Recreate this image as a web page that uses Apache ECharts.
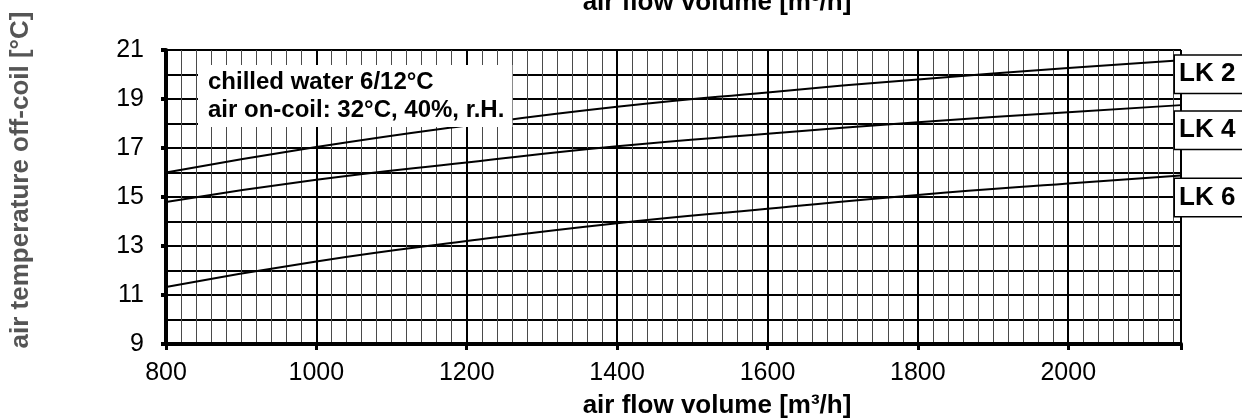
<!DOCTYPE html>
<html>
<head>
<meta charset="utf-8">
<title>air temperature off-coil</title>
<script src="https://cdn.jsdelivr.net/npm/echarts@6/dist/echarts.min.js"></script>
<style>
  html, body { margin: 0; padding: 0; background: #fff; }
  #main { width: 1242px; height: 419px; }
</style>
</head>
<body>
<div id="main"></div>
<script type="text/javascript">
// values
var airFlow = [800, 1000, 1200, 1400, 1600, 1800, 2000, 2150];
var lk2 = [16.0, 17.04, 17.92, 18.68, 19.27, 19.8, 20.27, 20.58];
var lk4 = [14.8, 15.7, 16.41, 17.07, 17.58, 18.05, 18.46, 18.75];
var lk6 = [11.33, 12.37, 13.2, 13.93, 14.52, 15.08, 15.55, 15.88];
var seriesNames = ['LK 2', 'LK 4', 'LK 6'];
var xTicks = [800, 1000, 1200, 1400, 1600, 1800, 2000];
var yTicks = [9, 11, 13, 15, 17, 19, 21];

var font = '"Liberation Sans", Arial, sans-serif';
var myChart = echarts.init(document.getElementById('main'));

function pairs(ys) {
  return airFlow.map(function (x, i) { return [x, ys[i]]; });
}

// minor vertical lines every 20, skip the ones sitting on the major lines
var minorColors = ['rgba(0,0,0,0)'];
for (var k = 1; k < 10; k++) minorColors.push('#4a4a4a');

var offsets = [[-14, 14], [-14, 25], [-14, 22]];

var option = {
  animation: false,
  textStyle: { fontFamily: font },
  grid: { left: 166, right: 61, top: 50, bottom: 75 },
  title: {
    text: 'chilled water 6/12°C\nair on-coil: 32°C, 40%, r.H.',
    left: 198, top: 65,
    backgroundColor: '#fff',
    padding: [3, 8, 3, 10],
    textStyle: { fontFamily: font, fontSize: 24, fontWeight: 'bold', color: '#000', lineHeight: 28 }
  },
  xAxis: [
    {
      type: 'value', min: 800, max: 2150, interval: 200,
      axisLine: { lineStyle: { color: '#000', width: 4 } },
      axisTick: { show: true, length: 6, lineStyle: { color: '#000', width: 3 } },
      axisLabel: {
        margin: 17, fontSize: 25, color: '#000', fontFamily: font,
        formatter: function (v) { return xTicks.indexOf(v) >= 0 ? String(v) : ''; }
      },
      splitLine: { show: true, lineStyle: { color: '#000', width: 2 } },
      z: 1
    },
    {
      type: 'value', min: 800, max: 2150, interval: 20,
      axisLine: { show: false }, axisTick: { show: false }, axisLabel: { show: false },
      splitLine: { show: true, lineStyle: { color: minorColors, width: 1 } },
      z: 0
    }
  ],
  yAxis: {
    type: 'value', min: 9, max: 21, interval: 2,
    axisLine: { show: true, lineStyle: { color: '#000', width: 4 } },
    axisTick: { show: true, length: 5, lineStyle: { color: '#000', width: 4 } },
    axisLabel: {
      margin: 22, fontSize: 25, color: '#000', fontFamily: font,
      formatter: function (v) { return yTicks.indexOf(v) >= 0 ? String(v) : ''; }
    },
    splitLine: { show: true, lineStyle: { color: '#000', width: 2 } },
    minorTick: { show: false, splitNumber: 2 },
    minorSplitLine: { show: true, lineStyle: { color: '#000', width: 2 } }
  },
  series: [lk2, lk4, lk6].map(function (ys, i) {
    return {
      name: seriesNames[i],
      type: 'line',
      smooth: true,
      showSymbol: false,
      data: pairs(ys),
      lineStyle: { color: '#000', width: 2 },
      z: 3,
      endLabel: {
        show: true,
        formatter: seriesNames[i],
        offset: offsets[i],
        fontSize: 26, fontWeight: 'bold', color: '#000', fontFamily: font,
        lineHeight: 27,
        backgroundColor: '#fff', borderColor: '#000', borderWidth: 1.5,
        padding: [5, 20, 5, 4]
      }
    };
  }),
  graphic: [
    {
      type: 'text', x: 717, y: 16,
      style: { text: 'air flow volume [m³/h]', fill: '#000', font: 'bold 26px ' + font, textAlign: 'center', textVerticalAlign: 'bottom' }
    },
    {
      type: 'text', x: 717, y: 406,
      style: { text: 'air flow volume [m³/h]', fill: '#000', font: 'bold 26px ' + font, textAlign: 'center', textVerticalAlign: 'middle' }
    },
    {
      type: 'text', x: 21, y: 180, rotation: Math.PI / 2,
      style: { text: 'air temperature off-coil [°C]', fill: '#555', font: 'bold 26px ' + font, textAlign: 'center', textVerticalAlign: 'middle' }
    }
  ]
};

myChart.setOption(option);
</script>
</body>
</html>
